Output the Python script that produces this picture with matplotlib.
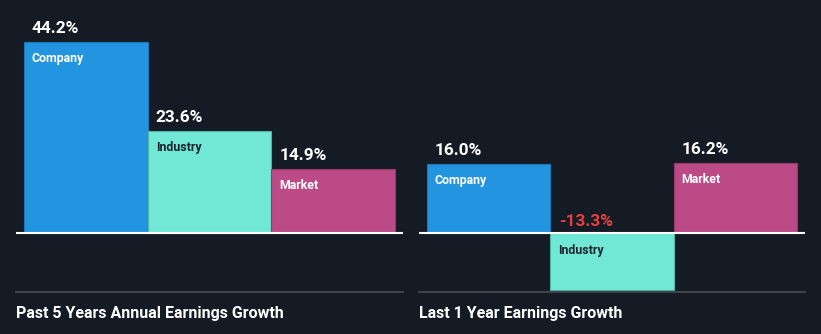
import matplotlib.pyplot as plt

# Data
categories = ["Company", "Industry", "Market"]
past_5y = [44.2, 23.6, 14.9]
last_1y = [16.0, -13.3, 16.2]
panel_titles = ["Past 5 Years Annual Earnings Growth", "Last 1 Year Earnings Growth"]

bar_colors = ["#2394df", "#71e8d6", "#bb4a86"]
edge_colors = ["#1c79b8", "#4fb3a5", "#963a6b"]
label_colors = ["white", "#1c2430", "white"]
bg = "#151b25"
W, H = 821, 334

plt.rcParams['font.family'] = ['Roboto', 'DejaVu Sans']

fig = plt.figure(figsize=(W / 100, H / 100), dpi=100, facecolor=bg)


def add_panel(x0, x1, values, title):
    # axes placed in pixel coordinates (top-origin y from 20 to 292)
    ax = fig.add_axes([x0 / W, (H - 292) / H, (x1 - x0) / W, 272 / H])
    ax.set_facecolor(bg)
    pad = 8 / 123.7
    ax.set_xlim(-0.5 - pad, 2.5 + pad)
    ax.set_ylim(-13.66, 49.3)
    xs = range(len(values))
    ax.bar(xs, values, width=1.0, color=bar_colors, edgecolor=edge_colors, linewidth=0.8, zorder=2)
    ax.axhline(0, color="white", lw=1.5, zorder=3)
    for s in ["top", "left", "right"]:
        ax.spines[s].set_visible(False)
    ax.spines["bottom"].set_color("#3d424b")
    ax.spines["bottom"].set_linewidth(1.5)
    ax.set_xticks([])
    ax.set_yticks([])

    for i, v in enumerate(values):
        if v >= 0:
            ax.annotate(f"{v:.1f}%", (i - 0.5, v), xytext=(8, 9), textcoords="offset pixels",
                        color="white", fontsize=12.4, fontweight="bold", va="baseline", ha="left")
            ax.annotate(categories[i], (i - 0.5, v), xytext=(8, -10), textcoords="offset pixels",
                        color=label_colors[i], fontsize=8.9, fontweight="bold", va="top", ha="left")
        else:
            ax.annotate(f"{v:.1f}%", (i - 0.5, 0), xytext=(9, 7), textcoords="offset pixels",
                        color="#e5403f", fontsize=12.4, fontweight="bold", va="baseline", ha="left")
            ax.annotate(categories[i], (i - 0.5, 0), xytext=(8, -11), textcoords="offset pixels",
                        color=label_colors[i], fontsize=8.9, fontweight="bold", va="top", ha="left")

    fig.text(x0 / W, (H - 318) / H, title, color="white", fontsize=11.5,
             fontweight="bold", va="baseline", ha="left")
    return ax


add_panel(16, 403, past_5y, panel_titles[0])
add_panel(419, 805, last_1y, panel_titles[1])

plt.savefig("out.png", dpi=100, facecolor=bg)
